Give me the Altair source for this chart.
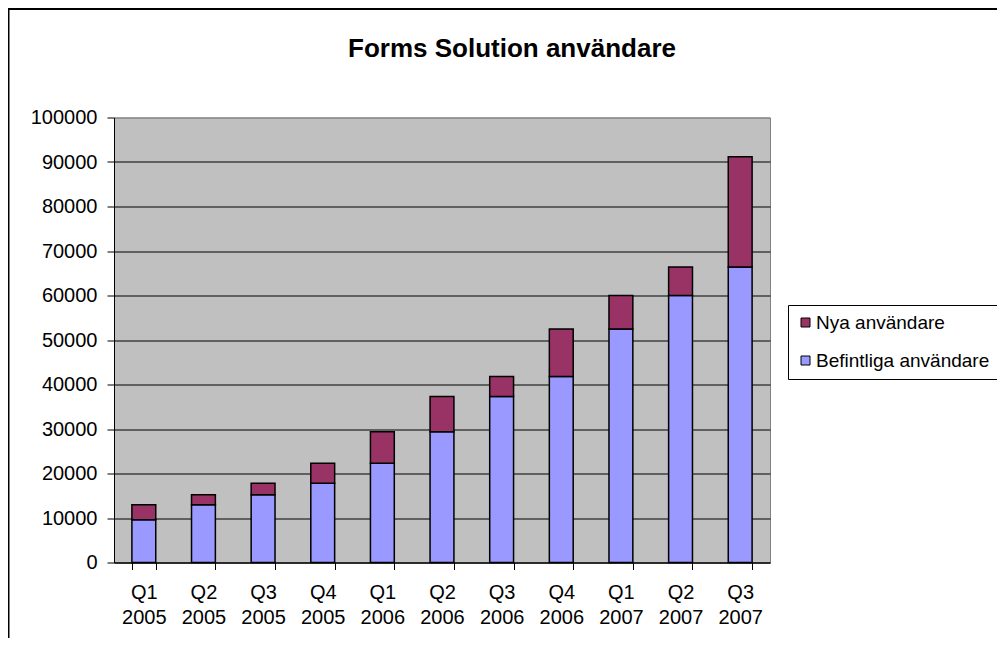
import altair as alt
import pandas as pd

quarters = ["Q1 2005", "Q2 2005", "Q3 2005", "Q4 2005", "Q1 2006", "Q2 2006",
            "Q3 2006", "Q4 2006", "Q1 2007", "Q2 2007", "Q3 2007"]
befintliga = [9600, 13000, 15200, 17800, 22300, 29400, 37300, 41800, 52500, 60000, 66400]
nya = [3400, 2200, 2600, 4500, 7100, 7900, 4500, 10700, 7500, 6400, 24800]
series = ["Nya användare", "Befintliga användare"]
colors = ["#993366", "#9999FF"]
y_ticks = list(range(0, 100001, 10000))

rows = []
for q, b, n in zip(quarters, befintliga, nya):
    rows.append({"kvartal": q, "serie": series[1], "varde": b, "ord": 0})
    rows.append({"kvartal": q, "serie": series[0], "varde": n, "ord": 1})
df = pd.DataFrame(rows)

FONT = "Liberation Sans"

bars = alt.Chart(df).mark_bar(stroke="black", strokeWidth=1.5, opacity=1).encode(
    x=alt.X("kvartal:N", sort=quarters,
            scale=alt.Scale(paddingInner=0.6, paddingOuter=0.3),
            axis=alt.Axis(title=None, labelAngle=0, tickBand="extent",
                          labelExpr="split(datum.label, ' ')",
                          labelLineHeight=25, labelPadding=13, tickSize=7)),
    y=alt.Y("varde:Q", stack="zero",
            scale=alt.Scale(domain=[0, 100000], nice=False),
            axis=alt.Axis(title=None, values=y_ticks, format="d",
                          tickSize=7, labelPadding=10, grid=True,
                          gridColor={"condition": {"test": "datum.value >= 100000",
                                                   "value": "#808080"},
                                     "value": "black"})),
    color=alt.Color("serie:N", scale=alt.Scale(domain=series, range=colors),
                    legend=alt.Legend(title=None, orient="none", legendX=674, legendY=187.5,
                                      strokeColor="black", fillColor="white", padding=8,
                                      symbolType="square", symbolSize=81,
                                      symbolStrokeColor="black", symbolStrokeWidth=1,
                                      symbolOpacity=1, labelFontSize=19, labelFont=FONT,
                                      labelColor="black", rowPadding=18, labelOffset=1,
                                      labelLimit=400)),
    order=alt.Order("ord:Q", sort="ascending"),
)

frame = alt.Chart(pd.DataFrame({"a": [0]})).mark_rect(
    fill="transparent", stroke="black", strokeWidth=2
).encode(
    x=alt.value(-105.5), x2=alt.value(2000),
    y=alt.value(-108.5), y2=alt.value(2000),
)

chart = alt.layer(bars, frame).properties(
    width=656, height=445,
    autosize=alt.AutoSizeParams(type="none"),
    padding={"left": 106, "top": 109.5, "right": 227, "bottom": 75.5},
    title=alt.TitleParams("Forms Solution användare", fontSize=26, font=FONT,
                          fontWeight="bold", color="black", anchor="middle",
                          frame="group", dx=70, offset=-75, baseline="alphabetic"),
    background="white",
).configure_view(
    fill="#C0C0C0", stroke="#808080", strokeWidth=1
).configure_axis(
    labelFont=FONT, labelFontSize=20, labelColor="black",
    domainColor="black", domainWidth=1, tickColor="black", tickWidth=1,
    gridWidth=1, gridOpacity=1,
).configure_axisX(grid=False)

chart.save("out.html", embed_options={"renderer": "svg", "actions": False})
